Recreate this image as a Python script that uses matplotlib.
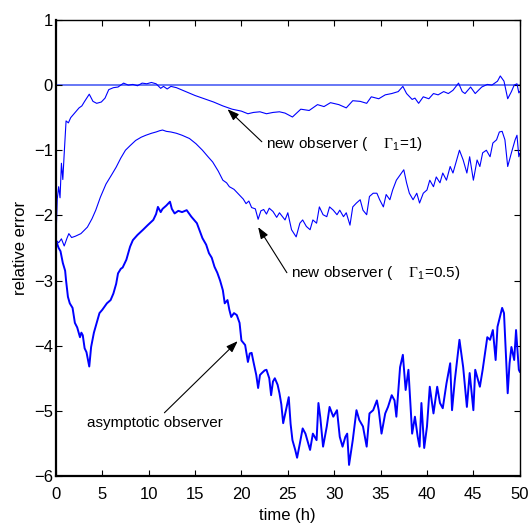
import matplotlib
matplotlib.use("Agg")
import matplotlib.pyplot as plt

plt.rcParams['font.family'] = ['Liberation Sans', 'DejaVu Sans']
plt.rcParams['mathtext.fontset'] = 'custom'
plt.rcParams['mathtext.rm'] = 'Liberation Serif'
plt.rcParams['mathtext.sf'] = 'Liberation Sans'

# relative error curves (time in h)
t_new1 = [0, 0.15, 0.3, 0.45, 0.6, 0.75, 0.9, 1.1, 1.35, 1.6, 1.9, 2.2, 2.5, 2.8, 3.1, 3.6, 4.0,
          4.4, 4.9, 5.3, 5.7, 6.2, 6.7, 7.3, 7.8, 8.3, 8.8, 9.3, 9.8, 10.3, 10.8, 11.3, 11.6, 12.0,
          12.4, 13.0, 14.0, 15.0, 16.0, 17.0, 18.0, 19.0, 20.0, 20.7, 21.3, 22.0, 22.7, 23.4, 24.1,
          24.7, 25.5, 26.4, 27.3, 28.2, 28.9, 29.6, 30.5, 31.3, 32.0, 32.8, 33.5, 34.0, 34.8, 35.5,
          36.2, 36.9, 37.4, 37.8, 38.4, 38.7, 39.1, 39.6, 40.2, 40.7, 41.2, 41.8, 42.3, 42.8, 43.4,
          43.8, 44.1, 44.7, 45.2, 45.9, 46.5, 47.0, 47.6, 47.9, 48.3, 48.7, 49.1, 49.4, 49.7, 49.9,
          50.0]
e_new1 = [-2.4, -1.75, -1.56, -1.73, -1.2, -1.45, -1.05, -0.55, -0.58, -0.5, -0.45, -0.4, -0.35,
          -0.32, -0.25, -0.14, -0.25, -0.28, -0.26, -0.2, -0.07, -0.04, -0.03, 0.03, 0.0, 0.01,
          -0.01, 0.03, 0.02, 0.04, 0.02, -0.05, -0.02, -0.06, -0.02, -0.04, -0.1, -0.16, -0.21,
          -0.26, -0.32, -0.37, -0.4, -0.44, -0.42, -0.41, -0.44, -0.42, -0.41, -0.43, -0.49, -0.37,
          -0.39, -0.3, -0.33, -0.27, -0.3, -0.35, -0.24, -0.25, -0.28, -0.18, -0.21, -0.15, -0.13,
          -0.1, -0.02, -0.13, -0.22, -0.2, -0.28, -0.18, -0.21, -0.13, -0.15, -0.1, -0.13, -0.08,
          0.03, -0.1, -0.13, -0.03, -0.13, -0.03, 0.01, 0.0, 0.06, 0.14, 0.06, -0.21, -0.1, 0.0,
          0.02, -0.12, -0.1]

t_new05 = [0, 0.3, 0.6, 0.9, 1.2, 1.4, 1.7, 2.1, 2.7, 3.4, 3.9, 4.3, 4.8, 5.4, 6.0, 6.5, 7.0, 7.5,
           8.0, 8.6, 9.2, 9.7, 10.3, 10.8, 11.2, 11.5, 11.9, 12.4, 13.0, 13.6, 14.4, 15.1, 15.8,
           16.4, 16.9, 17.5, 18.0, 18.4, 18.7, 19.2, 19.8, 20.2, 20.5, 20.8, 21.1, 21.5, 21.8, 22.1,
           22.4, 22.7, 23.0, 23.4, 23.8, 24.1, 24.7, 25.0, 25.4, 25.9, 26.3, 26.6, 27.0, 27.4, 27.7,
           28.1, 28.4, 28.8, 29.2, 29.5, 29.9, 30.3, 30.6, 31.0, 31.3, 31.7, 32.0, 32.4, 32.8, 33.1,
           33.5, 33.8, 34.2, 34.6, 34.9, 35.3, 35.6, 36.0, 36.3, 36.7, 37.1, 37.5, 37.8, 38.1, 38.5,
           38.9, 39.2, 39.6, 40.0, 40.3, 40.7, 41.0, 41.4, 41.7, 42.1, 42.5, 42.8, 43.2, 43.5, 43.9,
           44.3, 44.6, 45.0, 45.4, 45.7, 46.0, 46.4, 46.8, 47.1, 47.5, 47.8, 48.1, 48.4, 48.7, 49.1,
           49.5, 49.7, 49.9, 50.0]
e_new05 = [-2.38, -2.42, -2.36, -2.47, -2.35, -2.28, -2.34, -2.32, -2.28, -2.18, -2.05, -1.92, -1.72,
           -1.52, -1.38, -1.26, -1.12, -1.0, -0.93, -0.85, -0.8, -0.77, -0.74, -0.72, -0.7, -0.69,
           -0.71, -0.72, -0.74, -0.77, -0.82, -0.9, -1.0, -1.1, -1.18, -1.32, -1.46, -1.5, -1.56,
           -1.6, -1.69, -1.75, -1.82, -1.78, -1.88, -1.9, -2.06, -1.93, -1.91, -1.98, -1.89, -1.94,
           -2.03, -1.96, -2.07, -1.96, -2.22, -2.33, -2.12, -2.07, -2.17, -2.22, -2.07, -2.12, -1.87,
           -1.99, -2.02, -1.87, -1.92, -1.99, -1.92, -2.02, -1.96, -2.15, -1.87, -1.81, -1.76, -1.92,
           -1.99, -1.71, -1.66, -1.66, -1.76, -1.87, -1.68, -1.76, -1.61, -1.46, -1.38, -1.3, -1.5,
           -1.66, -1.76, -1.66, -1.81, -1.66, -1.61, -1.46, -1.56, -1.41, -1.5, -1.35, -1.46, -1.25,
           -1.35, -1.15, -1.0, -1.15, -1.35, -1.1, -1.46, -1.15, -1.25, -1.04, -1.0, -1.1, -0.89,
           -0.84, -0.72, -0.71, -0.84, -1.25, -1.04, -0.84, -0.77, -1.1, -1.05]

t_asym = [0, 0.3, 0.5, 0.75, 1.0, 1.1, 1.3, 1.5, 1.8, 2.05, 2.3, 2.6, 2.75, 2.9, 3.1, 3.3, 3.5, 3.6,
          3.8, 4.1, 4.4, 4.7, 5.0, 5.5, 5.9, 6.2, 6.5, 6.7, 7.0, 7.2, 7.6, 8.0, 8.3, 8.8, 9.4, 9.9,
          10.5, 10.8, 11.0, 11.3, 11.5, 11.9, 12.3, 12.5, 12.8, 13.2, 13.6, 14.1, 14.6, 15.2, 15.8,
          16.2, 16.5, 16.8, 17.1, 17.4, 17.7, 18.0, 18.2, 18.5, 18.7, 18.9, 19.2, 19.5, 19.8, 20.0,
          20.4, 20.7, 20.9, 21.1, 21.3, 21.6, 21.8, 22.0, 22.2, 22.5, 22.7, 23.0, 23.2, 23.4, 23.6,
          23.9, 24.1, 24.3, 24.5, 24.8, 25.1, 25.3, 25.5, 25.8, 26.0, 26.3, 26.6, 26.9, 27.1, 27.4,
          27.7, 28.1, 28.3, 28.5, 28.8, 29.2, 29.5, 29.9, 30.3, 30.6, 30.9, 31.2, 31.4, 31.6, 32.0,
          32.4, 32.7, 33.1, 33.5, 33.8, 34.2, 34.6, 34.8, 35.1, 35.5, 35.8, 36.2, 36.5, 36.7, 37.1,
          37.4, 37.7, 38.0, 38.4, 38.7, 39.0, 39.2, 39.4, 39.7, 40.0, 40.3, 40.7, 41.1, 41.4, 41.7,
          42.1, 42.5, 42.7, 43.0, 43.5, 43.9, 44.3, 44.6, 45.0, 45.2, 45.7, 46.0, 46.5, 46.8, 47.1,
          47.4, 47.6, 48.1, 48.3, 48.7, 48.9, 49.1, 49.4, 49.6, 49.9, 50.0]
e_asym = [-2.38, -2.5, -2.55, -2.73, -2.85, -3.0, -3.25, -3.35, -3.42, -3.65, -3.72, -3.87, -3.8,
          -3.84, -4.04, -4.1, -4.25, -4.32, -4.02, -3.8, -3.65, -3.5, -3.45, -3.35, -3.3, -3.2,
          -3.05, -2.89, -2.82, -2.8, -2.68, -2.48, -2.38, -2.3, -2.22, -2.15, -2.07, -1.98, -1.87,
          -1.95, -1.9, -1.85, -1.79, -1.9, -1.97, -1.93, -1.95, -1.92, -2.02, -2.12, -2.35, -2.45,
          -2.58, -2.65, -2.79, -2.88, -3.0, -3.15, -3.35, -3.3, -3.45, -3.56, -3.5, -3.53, -3.65,
          -3.92, -3.99, -4.25, -4.12, -4.11, -4.25, -4.45, -4.65, -4.45, -4.42, -4.38, -4.37, -4.5,
          -4.76, -4.55, -4.5, -4.6, -4.73, -4.9, -5.19, -4.99, -4.79, -5.2, -5.45, -5.6, -5.72,
          -5.5, -5.27, -5.35, -5.45, -5.6, -5.35, -5.45, -4.88, -5.1, -5.55, -5.24, -4.94, -5.09,
          -4.99, -5.4, -5.55, -5.4, -5.35, -5.83, -5.45, -4.99, -5.14, -5.24, -5.55, -5.04, -4.99,
          -4.84, -4.99, -5.35, -5.04, -4.94, -4.76, -4.84, -5.09, -4.33, -4.14, -4.68, -4.37, -5.35,
          -5.09, -5.4, -5.55, -4.88, -5.57, -5.24, -4.63, -5.04, -4.63, -4.88, -4.96, -4.58, -4.27,
          -4.99, -4.53, -3.91, -4.33, -4.94, -4.42, -4.99, -4.37, -4.63, -4.37, -3.87, -3.91, -3.76,
          -4.22, -3.71, -3.42, -3.5, -4.73, -4.27, -4.02, -4.22, -3.76, -4.37, -4.4]

fig = plt.figure(figsize=(5.32, 5.23), dpi=100)
ax = fig.add_axes([0.105, 0.0899, 0.872, 0.872])

ax.axhline(0, color='#5b6cf5', linewidth=1.3, zorder=1)
ax.plot(t_new1, e_new1, color='#0000ff', linewidth=0.8)
ax.plot(t_new05, e_new05, color='#0000ff', linewidth=0.8)
ax.plot(t_asym, e_asym, color='#0000ff', linewidth=1.4)

arrow = dict(arrowstyle='-|>,head_length=0.7,head_width=0.25', color='black',
             linewidth=0.8, shrinkA=0, shrinkB=0)
ax.annotate('', xy=(18.5, -0.37), xytext=(22.2, -0.87), arrowprops=arrow)
ax.annotate('', xy=(21.8, -2.18), xytext=(24.9, -2.88), arrowprops=arrow)
ax.annotate('', xy=(19.6, -3.93), xytext=(11.7, -5.03), arrowprops=arrow)

ax.text(22.7, -0.9, r'new observer (    $\Gamma_{\mathsf{1}}$=1)', fontsize=11, va='center')
ax.text(25.3, -2.88, r'new observer (    $\Gamma_{\mathsf{1}}$=0.5)', fontsize=11, va='center')
ax.text(3.4, -5.18, 'asymptotic observer', fontsize=11, va='center')

ax.set_xlim(0, 50)
ax.set_ylim(-6, 1)
ax.set_xticks(range(0, 51, 5))
ax.set_yticks(range(-6, 2))
ax.tick_params(direction='in', top=True, right=True, length=4, labelsize=12)
ax.tick_params(axis='x', pad=8)
ax.tick_params(axis='y', pad=2)
for side in ['left', 'bottom']:
    ax.spines[side].set_linewidth(1.6)
for side in ['top', 'right']:
    ax.spines[side].set_linewidth(1.0)

ax.set_xlabel('time (h)', fontsize=12, labelpad=4)
ax.set_ylabel('relative error', fontsize=12, labelpad=4)

fig.savefig('out.png', dpi=100)
